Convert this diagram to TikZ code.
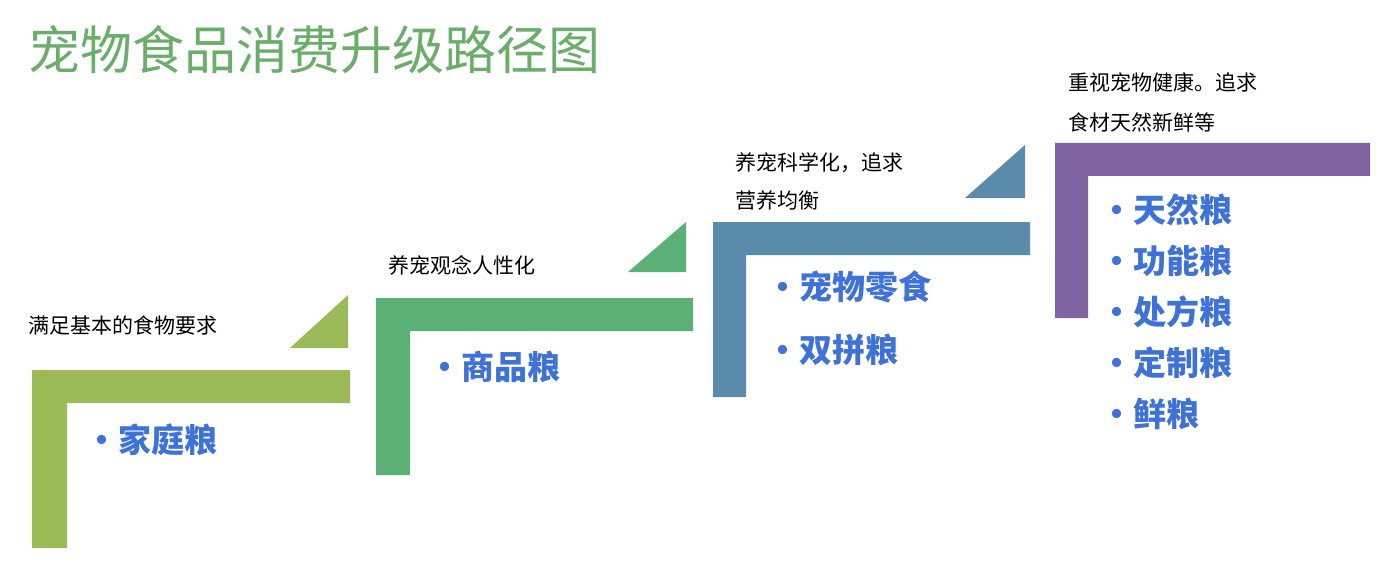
\documentclass[tikz,border=0pt]{standalone}
\usepackage{fontspec}
\setmainfont{Noto Sans CJK SC}
\definecolor{cA}{HTML}{9BBB59}
\definecolor{cB}{HTML}{5BB075}
\definecolor{cC}{HTML}{5B8BAA}
\definecolor{cD}{HTML}{8064A2}
\definecolor{ctitle}{HTML}{6AAE6A}
\definecolor{citem}{HTML}{3F72D8}
\tikzset{
 lbl/.style={anchor=west,inner sep=0,font=\fontsize{21}{26}\selectfont,text=black},
 item/.style={anchor=west,inner sep=0,align=left,font=\bfseries\fontsize{33}{51}\selectfont,text=citem},
}
\begin{document}
\begin{tikzpicture}[x=1pt,y=-1pt]
\useasboundingbox[fill=white] (0,0) rectangle (1398,583);
\node[anchor=west,inner sep=0,text=ctitle,font=\fontsize{52}{60}\selectfont] (title) at (28,50) {宠物食品消费升级路径图};
% step 1
\fill[cA] (32,370) -- (350,370) -- (350,403) -- (67,403) -- (67,548) -- (32,548) -- cycle;
\fill[cA] (290,348) -- (348,348) -- (348,295) -- cycle;
\node[lbl] (l1) at (28,325) {满足基本的食物要求};
\node[item] (i1) at (85,440) {·家庭粮};
% step 2
\fill[cB] (376,298) -- (693,298) -- (693,331) -- (410,331) -- (410,475) -- (376,475) -- cycle;
\fill[cB] (628,272) -- (686,272) -- (686,222) -- cycle;
\node[lbl] (l2) at (388,265) {养宠观念人性化};
\node[item] (i2) at (428,367) {·商品粮};
% step 3
\fill[cC] (713,222) -- (1030,222) -- (1030,255) -- (746,255) -- (746,397) -- (713,397) -- cycle;
\fill[cC] (965,198) -- (1025,198) -- (1025,145) -- cycle;
\node[lbl,align=left,font=\fontsize{21}{38}\selectfont] (l3) at (735,181) {养宠科学化，追求\\营养均衡};
\node[item,font=\bfseries\fontsize{33}{63}\selectfont] (i3) at (766,318) {·宠物零食\\·双拼粮};
% step 4
\fill[cD] (1055,143) -- (1370,143) -- (1370,176) -- (1088,176) -- (1088,318) -- (1055,318) -- cycle;
\node[lbl,align=left,font=\fontsize{21}{40}\selectfont] (l4) at (1068,102) {重视宠物健康。追求\\食材天然新鲜等};
\node[item] (i4) at (1100,312) {·天然粮\\·功能粮\\·处方粮\\·定制粮\\·鲜粮};
\end{tikzpicture}
\end{document}
